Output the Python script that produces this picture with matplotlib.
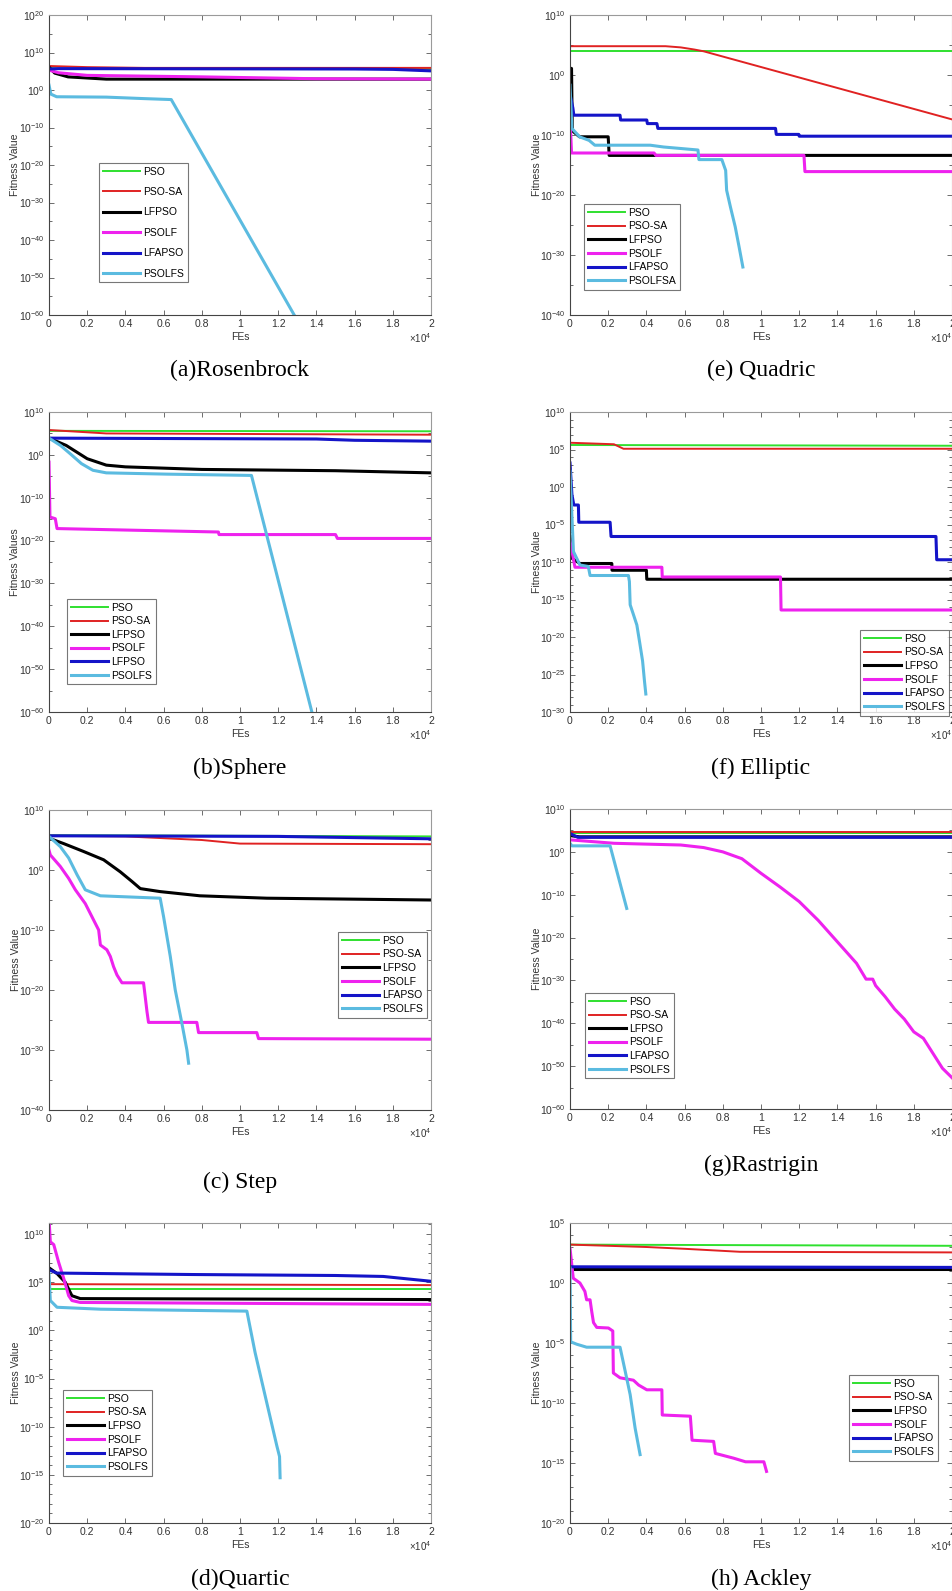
import numpy as np
import matplotlib
matplotlib.use('Agg')
import matplotlib.pyplot as plt
from matplotlib.ticker import FixedLocator, FuncFormatter, NullFormatter

plt.rcParams['font.family'] = ['Liberation Sans', 'DejaVu Sans']
plt.rcParams['mathtext.fontset'] = 'custom'
plt.rcParams['mathtext.rm'] = 'Liberation Sans'
plt.rcParams['mathtext.default'] = 'regular'

# each curve: (FEs, log10 of fitness value)
# (a) Rosenbrock
ros_pso = [(0, 5.9), (500, 5.7), (20000, 5.6)]
ros_psosa = [(0, 6.4), (2000, 6.1), (5000, 5.9), (20000, 5.9)]
ros_lfpso = [(0, 6.1), (300, 4.5), (1000, 3.5), (3000, 2.9), (20000, 2.9)]
ros_psolf = [(0, 5.3), (500, 4.6), (2000, 3.9), (8000, 3.5), (14000, 3.0), (20000, 2.9)]
ros_lfapso = [(0, 5.6), (500, 5.7), (16000, 5.6), (18000, 5.5), (20000, 5.1)]
ros_psolfs = [(0, 1.3), (100, -1.1), (400, -1.8), (3000, -1.9), (5000, -2.3), (6400, -2.55), (12950, -61)]

# (e) Quadric
quad_pso = [(0, 3.95), (20000, 3.95)]
quad_psosa = [(0, 4.8), (5000, 4.8), (5800, 4.6), (6500, 4.25), (7000, 3.95), (20000, -7.4)]
quad_lfpso = [(0, 1.1), (80, 1.1), (120, -9.3), (500, -10.3), (2000, -10.3), (2050, -13.4), (20000, -13.4)]
quad_psolf = [(0, -7.0), (80, -13.0), (4400, -13.0), (4500, -13.4), (12250, -13.4), (12300, -16.1), (20000, -16.1)]
quad_lfapso = [(0, -3.2), (150, -5.5), (200, -6.7), (2620, -6.7), (2650, -7.5), (4020, -7.5), (4050, -8.1),
               (4550, -8.1), (4600, -8.9), (10760, -8.9), (10800, -9.9), (11980, -9.9), (12000, -10.2), (20000, -10.2)]
quad_psolfs = [(0, -1.7), (100, -8.9), (500, -10.3), (1000, -10.9), (1300, -11.7), (4200, -11.7), (4900, -12.0),
               (6700, -12.5), (6750, -14.1), (7950, -14.1), (8150, -15.9), (8200, -19.2), (8400, -22.0),
               (8650, -25.3), (8850, -28.6), (9050, -32.0)]

# (b) Sphere
sph_pso = [(0, 5.6), (20000, 5.5)]
sph_psosa = [(0, 5.8), (3000, 5.0), (20000, 4.7)]
sph_lfpso = [(0, 3.9), (900, 2.2), (2000, -0.9), (3000, -2.4), (4000, -2.8), (8000, -3.4), (15000, -3.7), (20000, -4.2)]
sph_psolf = [(0, -1.7), (50, -14.5), (330, -14.9), (420, -17.2), (4600, -17.6), (8870, -18.0), (8900, -18.6),
             (15000, -18.6), (15100, -19.5), (20000, -19.5)]
sph_lfapso = [(0, 3.9), (14000, 3.7), (16000, 3.4), (20000, 3.2)]
sph_psolfs = [(0, 3.9), (600, 2.2), (1100, 0.3), (1700, -2.05), (2300, -3.6), (3000, -4.2), (6200, -4.5),
              (10600, -4.8), (13820, -61)]

# (f) Elliptic
ell_pso = [(0, 5.6), (20000, 5.5)]
ell_psosa = [(0, 5.9), (2300, 5.7), (2800, 5.1), (20000, 5.1)]
ell_lfpso = [(0, -6.6), (100, -9.5), (520, -10.2), (2190, -10.2), (2200, -11.1), (4000, -11.1), (4020, -12.3), (20000, -12.3)]
ell_psolf = [(0, -7.2), (260, -10.7), (4810, -10.7), (4830, -12.0), (11020, -12.0), (11050, -16.4), (20000, -16.4)]
ell_lfapso = [(0, 3.2), (100, -1.0), (200, -2.4), (440, -2.4), (460, -4.7), (2100, -4.7), (2150, -6.6),
              (19160, -6.6), (19200, -9.7), (20000, -9.7)]
ell_psolfs = [(0, 2.1), (180, -8.6), (520, -10.4), (960, -10.6), (1050, -11.8), (3060, -11.8), (3110, -12.6),
              (3150, -15.7), (3320, -17.0), (3500, -18.4), (3640, -20.6), (3800, -23.2), (3900, -25.9), (3970, -27.6)]

# (c) Step
step_pso = [(0, 5.8), (20000, 5.6)]
step_psosa = [(0, 5.7), (4000, 5.6), (8000, 5.0), (10000, 4.4), (20000, 4.3)]
step_lfpso = [(0, 5.3), (770, 4.4), (1800, 3.1), (2860, 1.7), (3730, -0.3), (4340, -1.9), (4780, -3.1),
              (5820, -3.6), (7900, -4.3), (11400, -4.7), (20000, -5.0)]
step_psolf = [(0, 3.3), (70, 2.5), (590, 0.6), (1030, -1.4), (1380, -3.3), (1900, -5.6), (2250, -7.8),
              (2600, -10.0), (2690, -12.5), (3030, -13.3), (3210, -14.4), (3380, -16.1), (3560, -17.5),
              (3820, -18.8), (4950, -18.8), (5130, -23.6), (5210, -25.4), (7740, -25.4), (7830, -27.1),
              (10880, -27.1), (10970, -28.1), (20000, -28.2)]
step_lfapso = [(0, 5.7), (12000, 5.6), (20000, 5.2)]
step_psolfs = [(0, 5.6), (590, 3.9), (1030, 2.0), (1470, -0.8), (1900, -3.3), (2690, -4.3), (5820, -4.7),
               (6000, -7.8), (6350, -14.4), (6610, -20.0), (6960, -25.6), (7220, -30.0), (7310, -32.2)]

# (g) Rastrigin
ras_pso = [(0, 4.3), (20000, 4.3)]
ras_psosa = [(0, 4.7), (20000, 4.7)]
ras_lfpso = [(0, 3.8), (500, 3.5), (20000, 3.5)]
ras_psolf = [(0, 2.8), (2300, 2.0), (5800, 1.6), (7000, 1.0), (8000, 0.0), (9000, -1.6), (10000, -5.0),
             (11000, -8.2), (12000, -11.6), (13000, -16.0), (14000, -21.0), (15000, -26.0), (15500, -29.7),
             (15850, -29.7), (16000, -31.2), (16500, -33.8), (17000, -36.7), (17500, -39.0), (18000, -42.0),
             (18500, -43.5), (19000, -47.0), (19500, -50.5), (20000, -52.7)]
ras_lfapso = [(0, 4.3), (400, 3.4), (20000, 3.4)]
ras_psolfs = [(0, 2.0), (100, 1.4), (2100, 1.4), (2970, -13.2)]

# (d) Quartic
qrt_pso = [(0, 4.3), (20000, 4.3)]
qrt_psosa = [(0, 4.8), (20000, 4.7)]
qrt_lfpso = [(0, 6.5), (420, 5.9), (850, 5.0), (1200, 3.6), (1640, 3.3), (20000, 3.2)]
qrt_psolf = [(0, 11.6), (70, 9.2), (250, 8.9), (500, 7.1), (770, 5.4), (1030, 3.6), (1200, 3.1), (1640, 2.9), (20000, 2.7)]
qrt_lfapso = [(0, 6.3), (400, 5.95), (7500, 5.8), (15000, 5.7), (17500, 5.6), (20000, 5.1)]
qrt_psolfs = [(0, 5.9), (70, 3.1), (420, 2.4), (2690, 2.2), (10360, 2.0), (10790, -2.3), (11400, -7.5),
              (11930, -12.0), (12070, -13.1), (12100, -15.3)]

# (h) Ackley
ack_pso = [(0, 3.2), (20000, 3.1)]
ack_psosa = [(0, 3.2), (4000, 3.0), (6000, 2.85), (8900, 2.6), (20000, 2.55)]
ack_lfpso = [(0, 1.2), (20000, 1.2)]
ack_lfapso = [(0, 1.35), (20000, 1.3)]
ack_psolf = [(0, 2.9), (170, 0.4), (520, 0.0), (780, -0.7), (870, -1.4), (1050, -1.4), (1140, -2.4),
             (1230, -3.3), (1400, -3.7), (2010, -3.75), (2240, -4.0), (2270, -7.5), (2620, -7.9), (3320, -8.1),
             (3590, -8.5), (4020, -8.9), (4810, -8.9), (4830, -11.0), (6300, -11.1), (6390, -13.1),
             (7520, -13.2), (7610, -14.2), (8570, -14.6), (9190, -14.9), (10150, -14.9), (10290, -15.7)]
ack_psolfs = [(0, 1.25), (35, -4.9), (350, -5.1), (870, -5.35), (2620, -5.35), (2890, -7.35), (3150, -9.3),
              (3410, -12.1), (3670, -14.3)]

labels_std = ['PSO', 'PSO-SA', 'LFPSO', 'PSOLF', 'LFAPSO', 'PSOLFS']
labels_quad = ['PSO', 'PSO-SA', 'LFPSO', 'PSOLF', 'LFAPSO', 'PSOLFSA']
labels_sph = ['PSO', 'PSO-SA', 'LFPSO', 'PSOLF', 'LFPSO', 'PSOLFS']

colors = ['#2fe02f', '#e02222', '#000000', '#ee22ee', '#1414c8', '#5bbbe0']
widths = [1.4, 1.4, 2.2, 2.2, 2.2, 2.2]

W, H = 953, 1591
fig = plt.figure(figsize=(W / 100, H / 100), dpi=100)


def panel(left, top, curves, labels, ylo, yhi, major, minor, leg_xy, leg_space, ylabel, ylab_x, caption, cap_y):
    ax = fig.add_axes([left / W, 1 - (top + 300) / H, 382 / W, 300 / H])
    for (pts, lab, c, lw) in zip(curves, labels, colors, widths):
        x = [p[0] for p in pts]
        y = [10.0 ** p[1] for p in pts]
        ax.plot(x, y, color=c, lw=lw, label=lab)
    ax.set_yscale('log')
    ax.set_xlim(0, 20000)
    ax.set_ylim(10.0 ** ylo, 10.0 ** yhi)
    ax.xaxis.set_major_locator(FixedLocator(np.arange(0, 20001, 2000)))
    ax.xaxis.set_major_formatter(FuncFormatter(lambda v, p: '%g' % (v / 1e4)))
    maj = np.arange(np.ceil(ylo / major) * major, yhi + 0.01, major)
    mnr = np.arange(np.ceil(ylo / minor) * minor, yhi + 0.01, minor)
    ax.yaxis.set_major_locator(FixedLocator(10.0 ** maj))
    ax.yaxis.set_minor_locator(FixedLocator(10.0 ** mnr))
    ax.yaxis.set_major_formatter(FuncFormatter(lambda v, p: r'$10^{%d}$' % round(np.log10(v))))
    ax.yaxis.set_minor_formatter(NullFormatter())
    ax.tick_params(which='both', direction='in', top=True, right=True, width=0.6, colors='#555555',
                   labelcolor='#333333', labelsize=7.5, pad=3)
    ax.tick_params(which='major', length=3.5)
    ax.tick_params(which='minor', length=2)
    for s in ['top', 'right']:
        ax.spines[s].set_color('#9a9a9a')
    for s in ['bottom', 'left']:
        ax.spines[s].set_color('#444444')
    for s in ax.spines.values():
        s.set_linewidth(0.8)
    ax.set_xlabel('FEs', fontsize=7.5, color='#333333', labelpad=2)
    ax.set_ylabel(ylabel, fontsize=7.5, color='#333333')
    ax.yaxis.set_label_coords(ylab_x, 0.5)
    ax.text(1.0, -0.077, r'$\times10^{4}$', transform=ax.transAxes, ha='right', va='center',
            fontsize=7, color='#333333')
    leg = ax.legend(loc='upper left', bbox_to_anchor=leg_xy, fontsize=7.5, frameon=True, fancybox=False,
                    handlelength=3.6, handletextpad=0.3, labelspacing=leg_space, borderpad=0.35,
                    borderaxespad=0)
    leg.get_frame().set_edgecolor('#555555')
    leg.get_frame().set_linewidth(0.8)
    fig.text((left + 191) / W, 1 - cap_y / H, caption, ha='center', va='center', fontsize=17,
             family='Liberation Serif')
    return ax


panel(49, 15, [ros_pso, ros_psosa, ros_lfpso, ros_psolf, ros_lfapso, ros_psolfs], labels_std,
      -60, 20, 10, 5, (0.131, 0.507), 1.0, 'Fitness Value', -0.076, '(a)Rosenbrock', 370)
panel(570, 15, [quad_pso, quad_psosa, quad_lfpso, quad_psolf, quad_lfapso, quad_psolfs], labels_quad,
      -40, 10, 10, 5, (0.037, 0.37), 0.35, 'Fitness Value', -0.073, '(e) Quadric', 370)
panel(49, 412, [sph_pso, sph_psosa, sph_lfpso, sph_psolf, sph_lfapso, sph_psolfs], labels_sph,
      -60, 10, 10, 5, (0.047, 0.377), 0.35, 'Fitness Values', -0.076, '(b)Sphere', 768)
panel(570, 412, [ell_pso, ell_psosa, ell_lfpso, ell_psolf, ell_lfapso, ell_psolfs], labels_std,
      -30, 10, 5, 1, (0.759, 0.273), 0.35, 'Fitness Value', -0.073, '(f) Elliptic', 768)
panel(49, 810, [step_pso, step_psosa, step_lfpso, step_psolf, step_lfapso, step_psolfs], labels_std,
      -40, 10, 10, 5, (0.757, 0.593), 0.35, 'Fitness Value', -0.074, '(c) Step', 1182)
panel(570, 809, [ras_pso, ras_psosa, ras_lfpso, ras_psolf, ras_lfapso, ras_psolfs], labels_std,
      -60, 10, 10, 5, (0.039, 0.387), 0.35, 'Fitness Value', -0.073, '(g)Rastrigin', 1165)
panel(49, 1223, [qrt_pso, qrt_psosa, qrt_lfpso, qrt_psolf, qrt_lfapso, qrt_psolfs], labels_std,
      -20, 11.15, 5, 1, (0.037, 0.443), 0.35, 'Fitness Value', -0.073, '(d)Quartic', 1579)
panel(570, 1223, [ack_pso, ack_psosa, ack_lfpso, ack_psolf, ack_lfapso, ack_psolfs], labels_std,
      -20, 5, 5, 1, (0.73, 0.493), 0.35, 'Fitness Value', -0.073, '(h) Ackley', 1579)

fig.savefig('out.png', dpi=100)
